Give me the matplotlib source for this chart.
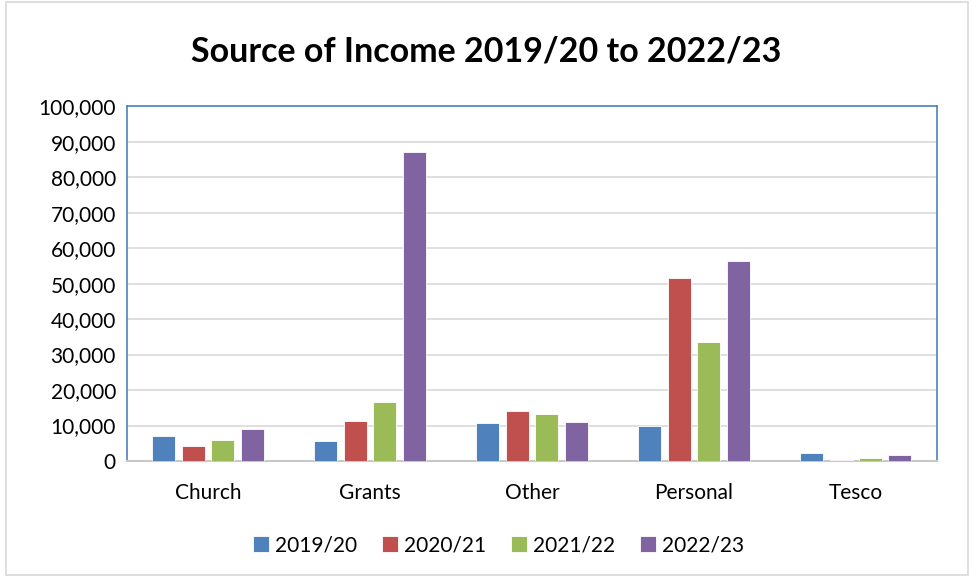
import numpy as np
import matplotlib.pyplot as plt
from matplotlib.patches import Rectangle
from matplotlib.ticker import FuncFormatter

categories = ["Church", "Grants", "Other", "Personal", "Tesco"]
years = ["2019/20", "2020/21", "2021/22", "2022/23"]
v2019 = [7100, 5700, 10700, 9800, 2400]
v2020 = [4100, 11400, 14100, 51600, 400]
v2021 = [6000, 16500, 13300, 33500, 850]
v2022 = [9100, 87000, 10900, 56400, 1600]
series = [v2019, v2020, v2021, v2022]
colors = ["#4F81BD", "#C0504D", "#9BBB59", "#8064A2"]

plt.rcParams['font.family'] = ['Lato', 'DejaVu Sans']

fig = plt.figure(figsize=(9.72, 5.77), dpi=100)
fig.patches.append(Rectangle((0.006, 0.004), 0.99, 0.992, transform=fig.transFigure,
                             fill=False, edgecolor="#D9D9D9", linewidth=1.2))
ax = fig.add_axes([0.1307, 0.201, 0.833, 0.615])

x = np.arange(len(categories))
step = 0.182
width = 0.142
for i, (vals, col) in enumerate(zip(series, colors)):
    ax.bar(x + (i - 1.5) * step, vals, width, color=col, label=years[i],
           edgecolor="white", linewidth=0.6, zorder=3)

ax.set_xlim(-0.5, len(categories) - 0.5)
ax.set_ylim(0, 100000)
ax.set_yticks(np.arange(0, 100001, 10000))
ax.yaxis.set_major_formatter(FuncFormatter(lambda v, p: f"{int(v):,}"))
ax.set_xticks(x)
ax.set_xticklabels(categories)
ax.tick_params(axis='both', length=0, labelsize=15, pad=8)
ax.tick_params(axis='x', pad=16)
ax.grid(axis='y', color="#D9D9D9", linewidth=1.2, zorder=0)
for s in ["left", "top", "right"]:
    ax.spines[s].set_color("#4F81BD")
    ax.spines[s].set_linewidth(1.2)
ax.spines["bottom"].set_color("#C8C8C8")
ax.spines["bottom"].set_linewidth(1.5)

fig.text(0.5, 0.91, "Source of Income 2019/20 to 2022/23", ha='center', va='center',
         fontsize=24.5, fontweight='bold')
fig.legend(loc='center', bbox_to_anchor=(0.513, 0.055), ncol=4, frameon=False,
           fontsize=15, handlelength=0.75, handleheight=0.75, handletextpad=0.3,
           columnspacing=1.2)

fig.savefig("out.png", dpi=100)
